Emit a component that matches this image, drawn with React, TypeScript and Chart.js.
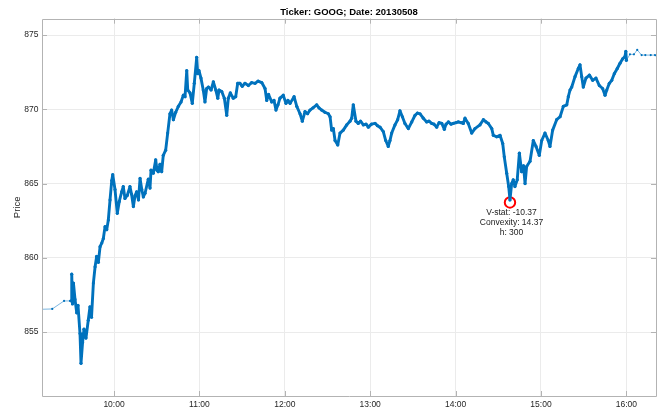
import React, { useEffect, useRef } from "react";
import { Chart, registerables } from "chart.js";

Chart.register(...registerables);

// ---- data (time in minutes after midnight, price in USD) ----
const chartTitle = "Ticker: GOOG; Date: 20130508";
const yAxisTitle = "Price";

const preTimes = [549.4, 556.6, 564.9, 569.1, 570.0];
const prePrices = [856.54, 856.56, 857.1, 857.1, 857.1];

const sessionTimes = [
  570.0, 570.3, 570.8, 571.5, 572.6, 573.8, 574.7, 576.1, 576.8, 577.9,
  578.9, 580.3, 581.9, 583.1, 584.2, 585.5, 586.7, 587.8, 589.0, 590.2,
  591.4, 592.5, 593.7, 594.9, 596.0, 597.2, 598.4, 599.1, 600.7, 602.3,
  603.7, 605.4, 606.5, 607.7, 609.3, 611.2, 612.3, 613.6, 614.8, 615.9,
  617.2, 618.3, 619.5, 620.6, 621.8, 624.1, 625.3, 626.0, 627.6, 629.3,
  630.2, 631.1, 632.3, 633.5, 634.6, 636.3, 637.7, 639.3, 640.5, 641.7,
  643.3, 645.2, 647.1, 648.7, 649.9, 651.1, 651.8, 653.4, 655.0, 656.4,
  658.1, 658.8, 659.7, 661.1, 662.7, 663.9, 665.1, 666.3, 668.2, 669.8,
  671.5, 672.9, 673.8, 675.7, 677.5, 679.2, 680.3, 681.7, 683.8, 685.5,
  686.9, 688.5, 690.1, 692.0, 694.4, 696.7, 699.1, 701.2, 703.8, 706.1,
  707.3, 708.6, 710.8, 712.4, 713.8, 715.2, 716.6, 718.9, 720.8, 722.2,
  723.7, 726.5, 728.4, 730.7, 732.3, 734.2, 736.0, 737.7, 739.8, 742.4,
  744.0, 745.9, 748.2, 750.6, 751.8, 752.9, 754.1, 755.3, 757.2, 758.8,
  761.1, 763.5, 765.8, 767.0, 768.1, 770.0, 771.6, 773.2, 775.2, 777.1,
  778.7, 780.9, 783.4, 785.1, 786.9, 789.2, 790.9, 792.7, 793.9, 795.1,
  797.4, 799.3, 800.9, 802.6, 804.4, 806.8, 809.2, 811.5, 813.2, 815.0,
  817.3, 819.7, 821.3, 823.2, 824.8, 826.7, 828.4, 830.3, 832.1, 833.3,
  834.9, 836.8, 838.4, 840.3, 841.9, 843.8, 845.4, 846.6, 848.9, 851.3,
  853.6, 857.1, 859.5, 861.4, 863.0, 865.4, 866.5, 868.9, 871.2, 873.1,
  874.2, 875.9, 877.3, 878.2, 879.4, 880.5, 881.7, 883.3, 884.8, 886.4,
  887.7, 888.8, 889.9, 892.3, 894.6, 896.5, 898.8, 900.5, 902.8, 905.1,
  906.3, 908.2, 911.0, 913.4, 915.7, 918.1, 919.2, 920.4, 921.6, 923.9,
  926.2, 927.4, 928.6, 929.7, 931.6, 934.0, 936.3, 938.6, 941.0, 943.3,
  945.0, 946.2, 948.0, 949.7, 951.5, 953.6, 955.5, 957.4, 959.0, 959.6,
  960.0,
];
const sessionPrices = [
  857.1, 858.9, 856.9, 858.3, 857.2, 856.3, 856.8, 854.9, 852.9, 854.3,
  855.2, 854.6, 855.8, 856.7, 856.0, 858.3, 859.4, 860.1, 859.7, 860.75,
  861.0, 861.3, 862.1, 861.9, 862.55, 863.9, 865.2, 865.6, 864.6, 863.0,
  863.8, 864.45, 864.8, 864.0, 864.2, 864.8, 864.3, 863.45, 864.2, 864.45,
  863.9, 865.35, 864.6, 864.1, 864.35, 865.3, 864.7, 865.9, 865.7, 866.6,
  865.9, 865.8, 866.3, 865.8, 866.9, 867.25, 868.4, 869.7, 869.95, 869.3,
  869.8, 870.2, 870.5, 870.95, 870.85, 872.6, 871.3, 871.1, 870.4, 871.75,
  873.5, 872.4, 872.6, 872.1, 871.3, 870.5, 871.4, 871.5, 871.3, 871.85,
  871.3, 870.75, 871.3, 871.2, 870.75, 869.6, 870.75, 871.1, 870.75, 870.85,
  871.75, 871.75, 871.55, 871.75, 871.6, 871.8, 871.75, 871.9, 871.8, 871.4,
  870.6, 871.0, 870.5, 870.6, 869.95, 870.3, 870.75, 870.95, 870.4, 870.6,
  870.4, 870.85, 870.2, 869.7, 869.2, 869.85, 869.7, 869.95, 870.1, 870.3,
  870.1, 869.95, 869.8, 869.7, 869.5, 868.6, 868.7, 867.9, 867.6, 868.4,
  868.6, 868.95, 869.2, 869.4, 870.3, 869.2, 869.05, 869.2, 868.95, 869.0,
  868.8, 869.0, 869.05, 868.9, 868.8, 868.5, 867.9, 867.5, 867.9, 868.4,
  868.95, 869.3, 869.9, 869.5, 869.05, 868.7, 869.15, 869.6, 869.75, 869.7,
  869.4, 869.15, 869.2, 869.05, 869.0, 868.8, 869.1, 869.05, 868.65, 869.0,
  869.15, 869.0, 869.05, 869.1, 869.15, 869.1, 869.05, 869.4, 869.05, 868.4,
  868.7, 868.95, 869.3, 869.15, 869.05, 868.7, 868.25, 868.15, 868.25, 867.7,
  866.8, 865.7, 864.8, 863.9, 865.0, 865.25, 864.8, 865.25, 867.05, 865.8,
  866.2, 865.0, 866.15, 866.5, 867.9, 867.5, 866.9, 867.9, 868.4, 867.9,
  867.5, 868.6, 869.3, 869.5, 870.2, 870.3, 870.85, 871.3, 871.5, 872.2,
  872.75, 873.0, 872.2, 871.5, 872.1, 872.3, 871.95, 872.1, 871.6, 871.4,
  870.95, 871.3, 871.75, 871.95, 872.4, 872.75, 873.1, 873.4, 873.55, 873.9,
  873.3,
];

const postTimes = [960.0, 962.5, 965.3, 967.6, 970.7, 973.3, 977.1, 980.1];
const postPrices = [873.3, 873.7, 873.7, 874.0, 873.65, 873.65, 873.65, 873.65];

const markTimes = [878.2];
const markPrices = [863.73];
const annotationLines = ["V-stat: -10.37", "Convexity: 14.37", "h: 300"];

const xTickValues = [600, 660, 720, 780, 840, 900, 960];
const yTickValues = [855, 860, 865, 870, 875];
const xMin = 549.4;
const xMax = 980.8;
const yMin = 850.7;
const yMax = 876.1;

// ---- styling ----
const FONT = "'Liberation Sans', Arial, Helvetica, sans-serif";
const LINE_BLUE = "#0072BD";
const TEXT = "#262626";
const GRID = "#ebebeb";
const AXIS = "#b3b3b3";

const toXY = (xs: number[], ys: number[]) => xs.map((x, i) => ({ x, y: ys[i] }));

const fmtTime = (v: number) => {
  const h = Math.floor(v / 60);
  const m = Math.round(v - h * 60);
  return `${h}:${m < 10 ? "0" + m : m}`;
};

const decorPlugin = {
  id: "decor",
  afterDatasetsDraw(chart: any) {
    const { ctx, chartArea } = chart;
    const { left, right, top, bottom } = chartArea;
    const xs = chart.scales.x;
    const ys = chart.scales.y;
    ctx.save();
    // box
    ctx.strokeStyle = AXIS;
    ctx.lineWidth = 1;
    ctx.beginPath();
    ctx.rect(Math.round(left) + 0.5, Math.round(top) + 0.5, Math.round(right - left), Math.round(bottom - top));
    ctx.stroke();
    // inward ticks
    const tl = 5;
    ctx.beginPath();
    xTickValues.forEach((v) => {
      const px = Math.round(xs.getPixelForValue(v)) + 0.5;
      ctx.moveTo(px, bottom);
      ctx.lineTo(px, bottom - tl);
      ctx.moveTo(px, top);
      ctx.lineTo(px, top + tl);
    });
    yTickValues.forEach((v) => {
      const py = Math.round(ys.getPixelForValue(v)) + 0.5;
      ctx.moveTo(left, py);
      ctx.lineTo(left + tl, py);
      ctx.moveTo(right, py);
      ctx.lineTo(right - tl, py);
    });
    ctx.stroke();
    // title
    ctx.fillStyle = "#000";
    ctx.font = `bold 9.5px ${FONT}`;
    ctx.textAlign = "center";
    ctx.textBaseline = "middle";
    ctx.fillText(chartTitle, (left + right) / 2, 12.5);
    // annotation under the marker
    const mx = xs.getPixelForValue(markTimes[0]);
    const my = ys.getPixelForValue(markPrices[0]);
    ctx.fillStyle = "#1a1a1a";
    ctx.font = `8.5px ${FONT}`;
    annotationLines.forEach((t, i) => {
      ctx.fillText(t, mx + 1.5, my + 10.5 + i * 10);
    });
    ctx.restore();
  },
};

export default function App() {
  const canvasRef = useRef<HTMLCanvasElement | null>(null);

  useEffect(() => {
    if (!canvasRef.current) return;
    const chart = new Chart(canvasRef.current, {
      type: "line",
      data: {
        datasets: [
          {
            data: toXY(preTimes, prePrices),
            borderColor: "#5aa3d8",
            backgroundColor: LINE_BLUE,
            borderWidth: 0.8,
            pointRadius: 1.1,
            pointBorderWidth: 0,
            pointBackgroundColor: LINE_BLUE,
            tension: 0,
          },
          {
            data: toXY(sessionTimes, sessionPrices),
            borderColor: LINE_BLUE,
            backgroundColor: LINE_BLUE,
            borderWidth: 2.9,
            borderJoinStyle: "round",
            borderCapStyle: "round",
            pointRadius: 1.6,
            pointBorderWidth: 0,
            pointBackgroundColor: LINE_BLUE,
            tension: 0,
          },
          {
            data: toXY(postTimes, postPrices),
            borderColor: "#5aa3d8",
            backgroundColor: LINE_BLUE,
            borderWidth: 0.8,
            pointRadius: 1.1,
            pointBorderWidth: 0,
            pointBackgroundColor: LINE_BLUE,
            tension: 0,
          },
          {
            data: toXY(markTimes, markPrices),
            showLine: false,
            pointStyle: "circle",
            pointRadius: 5.2,
            pointBorderWidth: 2,
            pointBorderColor: "#ff0000",
            pointBackgroundColor: "rgba(0,0,0,0)",
          },
        ],
      },
      options: {
        animation: false,
        responsive: true,
        maintainAspectRatio: false,
        layout: { padding: { left: 0, right: 16, top: 18.7, bottom: 0 } },
        plugins: {
          legend: { display: false },
          tooltip: { enabled: false },
          title: { display: false },
        },
        scales: {
          x: {
            type: "linear",
            min: xMin,
            max: xMax,
            afterBuildTicks: (scale: any) => {
              scale.ticks = xTickValues.map((v) => ({ value: v }));
            },
            afterFit: (scale: any) => {
              scale.height = 18;
            },
            grid: { color: GRID, drawTicks: false, lineWidth: 1 },
            border: { display: false },
            ticks: {
              autoSkip: false,
              maxRotation: 0,
              padding: 4,
              color: TEXT,
              font: { family: FONT, size: 8.5 },
              callback: (v: any) => fmtTime(Number(v)),
            },
          },
          y: {
            type: "linear",
            min: yMin,
            max: yMax,
            afterBuildTicks: (scale: any) => {
              scale.ticks = yTickValues.map((v) => ({ value: v }));
            },
            afterFit: (scale: any) => {
              scale.width = 42;
            },
            grid: { color: GRID, drawTicks: false, lineWidth: 1 },
            border: { display: false },
            title: {
              display: true,
              text: yAxisTitle,
              color: TEXT,
              font: { family: FONT, size: 9.5 },
              padding: { top: 11.6, bottom: 0 },
            },
            ticks: {
              padding: 3.5,
              color: TEXT,
              font: { family: FONT, size: 8.5 },
              callback: (v: any) => String(v),
            },
          },
        },
      },
      plugins: [decorPlugin],
    });
    return () => chart.destroy();
  }, []);

  return (
    <div style={{ position: "fixed", left: 0, top: 0, width: 672, height: 414, background: "#fff" }}>
      <canvas ref={canvasRef} />
    </div>
  );
}
